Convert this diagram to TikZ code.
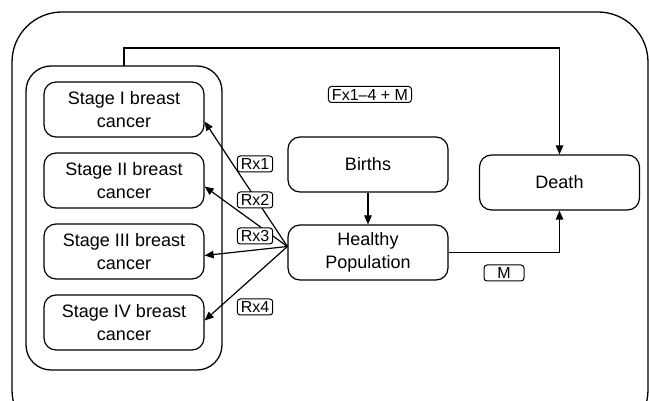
\documentclass[tikz,border=0pt]{standalone}
\usepackage{fontspec}
\setmainfont{Liberation Sans}
\usetikzlibrary{arrows.meta,positioning,calc}
\begin{document}
\begin{tikzpicture}[x=1pt,y=-1pt,
  box/.style={draw,line width=1.2pt,rounded corners=12pt,minimum width=160pt,minimum height=55pt,align=center,font=\fontsize{18}{22.5}\selectfont,inner sep=2pt},
  lbl/.style={draw,fill=white,line width=1pt,rounded corners=3pt,font=\fontsize{16}{18}\selectfont,inner ysep=1.2pt,inner xsep=3.5pt,minimum height=16pt},
  conn/.style={line width=1.2pt},
  arr/.style={conn,-{Triangle[length=9pt,width=7.5pt]}}]
\clip (0,0) rectangle (649,401);
\draw[line width=1.3pt,rounded corners=50pt] (12,12) rectangle (648,440);
\draw[line width=1.3pt,rounded corners=25pt] (26,66) rectangle (222,370);
\coordinate (grp) at (124,66);
\node[box] (s1) at (124,109.5) {Stage I breast\\cancer};
\node[box] (s2) at (124,180.5) {Stage II breast\\cancer};
\node[box] (s3) at (124,251.5) {Stage III breast\\cancer};
\node[box] (s4) at (124,322.5) {Stage IV breast\\cancer};
\node[box] (b) at (368,164.5) {Births};
\node[box] (hp) at (368,252.5) {Healthy\\Population};
\node[box] (d) at (559.5,182.5) {Death};
\coordinate (topy) at (0,48);
\draw[arr] (grp) -- (grp |- topy) -- (d.north |- topy) -- (d.north);
\draw[arr] (hp.east) -| (d.south);
\draw[arr] (b.south) -- (hp.north);
\coordinate (src) at ([yshift=6pt]hp.west);
\draw[arr] (src) -- ([yshift=-12pt]s1.east);
\draw[arr] (src) -- ([yshift=-6pt]s2.east);
\draw[arr] (src) -- ([yshift=-4pt]s3.east);
\draw[arr] (src) -- ([yshift=2pt]s4.east);
\node[lbl] (fx) at (370,94.5) {Fx1–4 + M};
\node[lbl,minimum width=40pt] (m) at (504,273) {M};
\node[lbl] (r1) at (255,164) {Rx1};
\node[lbl] (r2) at (255,200) {Rx2};
\node[lbl] (r3) at (255,236) {Rx3};
\node[lbl] (r4) at (255,307) {Rx4};
\end{tikzpicture}
\end{document}
